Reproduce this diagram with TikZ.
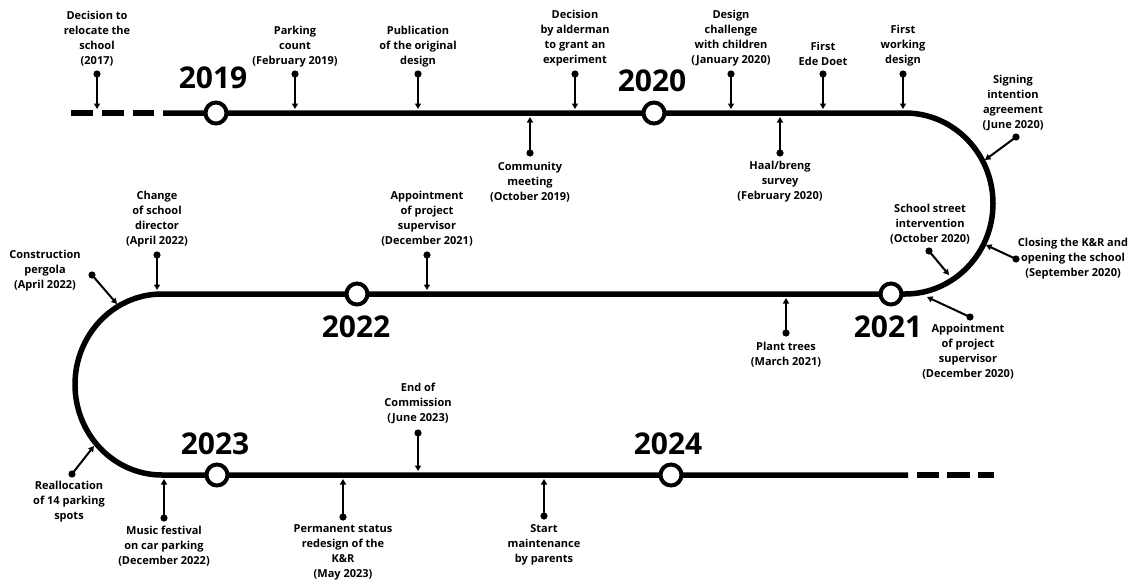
\documentclass[tikz,border=0pt]{standalone}
\usepackage{fontspec}
\setmainfont{Open Sans}
\usetikzlibrary{arrows.meta}
\newcommand\mypin[2]{\fill (#1) circle[radius=3.6pt]; \draw[pinline] (#1) -- (#2);}
\begin{document}
\begin{tikzpicture}[x=1pt,y=-1pt,
  lbl/.style={font=\fontsize{11}{15}\selectfont\bfseries, align=center, inner sep=0pt},
  yr/.style={font=\fontsize{30}{30}\selectfont\bfseries, inner sep=0pt},
  yrdot/.style={circle, draw, line width=4pt, fill=white, minimum size=21pt, inner sep=0pt},
  track/.style={line width=5.5pt, line cap=butt},
  pinline/.style={line width=2pt, -{Triangle[length=5.5pt,width=6pt]}}]
\useasboundingbox[fill=white] (0,0) rectangle (1130,581);

% track
\draw[track] (71,113) -- (93,113);
\draw[track] (102,113) -- (124,113);
\draw[track] (133,113) -- (154,113);
\draw[track] (163,113) -- (905,113)
  arc[start angle=-90, end angle=90, x radius=88, y radius=90.5]
  -- (162,294)
  arc[start angle=-90, end angle=-270, x radius=87, y radius=90.5]
  -- (908,475);
\draw[track] (917,475) -- (939,475);
\draw[track] (947,475) -- (970,475);
\draw[track] (978,475) -- (994,475);

% year markers
\node[yrdot] (y19) at (216,113) {};
\node[yr] (l19) at (213,78) {2019};
\node[yrdot] (y20) at (654,113) {};
\node[yr] (l20) at (652,81) {2020};
\node[yrdot] (y21) at (891,294) {};
\node[yr] (l21) at (888,327) {2021};
\node[yrdot] (y22) at (357,294) {};
\node[yr] (l22) at (356,327) {2022};
\node[yrdot] (y23) at (217,475) {};
\node[yr] (l23) at (215,444) {2023};
\node[yrdot] (y24) at (671,475) {};
\node[yr] (l24) at (668,444) {2024};

% top line, above
\node[lbl] (a1) at (97,38.5) {Decision to\\relocate the\\school\\(2017)};
\coordinate (a1d) at (97,74); \coordinate (a1t) at (97,109);
\node[lbl] (a2) at (295,46.5) {Parking\\count\\(February 2019)};
\coordinate (a2d) at (295,74); \coordinate (a2t) at (295,109);
\node[lbl] (a3) at (418,47) {Publication\\of the original\\design};
\coordinate (a3d) at (418,74); \coordinate (a3t) at (418,109);
\node[lbl] (a4) at (575,38.5) {Decision\\by alderman\\to grant an\\experiment};
\coordinate (a4d) at (575,74); \coordinate (a4t) at (575,109);
\node[lbl] (a5) at (731,38.5) {Design\\challenge\\with children\\(January 2020)};
\coordinate (a5d) at (731,74); \coordinate (a5t) at (731,109);
\node[lbl] (a6) at (823,53.5) {First\\Ede Doet};
\coordinate (a6d) at (823,74); \coordinate (a6t) at (823,109);
\node[lbl] (a7) at (903,46) {First\\working\\design};
\coordinate (a7d) at (903,74); \coordinate (a7t) at (903,109);

% top line, below
\node[lbl] (b1) at (530,182) {Community\\meeting\\(October 2019)};
\coordinate (b1d) at (530,153); \coordinate (b1t) at (530,117);
\node[lbl] (b2) at (780,182) {Haal/breng\\survey\\(February 2020)};
\coordinate (b2d) at (780,153); \coordinate (b2t) at (780,117);

% right arc
\node[lbl] (c1) at (1013,103) {Signing\\intention\\agreement\\(June 2020)};
\coordinate (c1d) at (1016,137); \coordinate (c1t) at (985,160);
\node[lbl] (c2) at (1073,259) {Closing the K\&R and\\opening the school\\(September 2020)};
\coordinate (c2d) at (1016,259); \coordinate (c2t) at (986,245);
\node[lbl] (c3) at (930,224.5) {School street\\intervention\\(October 2020)};
\coordinate (c3d) at (929,251); \coordinate (c3t) at (949,275);
\node[lbl] (c4) at (968,351.5) {Appointment\\of project\\supervisor\\(December 2020)};
\coordinate (c4d) at (970,317); \coordinate (c4t) at (927,297);

% middle line
\node[lbl] (d1) at (427,219) {Appointment\\of project\\supervisor\\(December 2021)};
\coordinate (d1d) at (427,255); \coordinate (d1t) at (427,290);
\node[lbl] (d2) at (157,219) {Change\\of school\\director\\(April 2022)};
\coordinate (d2d) at (157,255); \coordinate (d2t) at (157,290);
\node[lbl] (d3) at (45,271) {Construction\\pergola\\(April 2022)};
\coordinate (d3d) at (92,275); \coordinate (d3t) at (117,304);
\node[lbl] (d4) at (786,354.5) {Plant trees\\(March 2021)};
\coordinate (d4d) at (786,333); \coordinate (d4t) at (786,298);

% left arc
\node[lbl] (e1) at (69,502) {Reallocation\\of 14 parking\\spots};
\coordinate (e1d) at (72,474); \coordinate (e1t) at (94,446);

% bottom line
\node[lbl] (f1) at (164,546) {Music festival\\on car parking\\(December 2022)};
\coordinate (f1d) at (164,518); \coordinate (f1t) at (164,479);
\node[lbl] (f2) at (343,552.5) {Permanent status\\redesign of the\\K\&R\\(May 2023)};
\coordinate (f2d) at (343,517); \coordinate (f2t) at (343,479);
\node[lbl] (f3) at (418,403) {End of\\Commission\\(June 2023)};
\coordinate (f3d) at (418,433); \coordinate (f3t) at (418,471);
\node[lbl] (f4) at (544,545) {Start\\maintenance\\by parents};
\coordinate (f4d) at (544,516); \coordinate (f4t) at (544,479);

% pins
\mypin{a1d}{a1t}\mypin{a2d}{a2t}\mypin{a3d}{a3t}\mypin{a4d}{a4t}
\mypin{a5d}{a5t}\mypin{a6d}{a6t}\mypin{a7d}{a7t}
\mypin{b1d}{b1t}\mypin{b2d}{b2t}
\mypin{c1d}{c1t}\mypin{c2d}{c2t}\mypin{c3d}{c3t}\mypin{c4d}{c4t}
\mypin{d1d}{d1t}\mypin{d2d}{d2t}\mypin{d3d}{d3t}\mypin{d4d}{d4t}
\mypin{e1d}{e1t}
\mypin{f1d}{f1t}\mypin{f2d}{f2t}\mypin{f3d}{f3t}\mypin{f4d}{f4t}
\end{tikzpicture}
\end{document}
